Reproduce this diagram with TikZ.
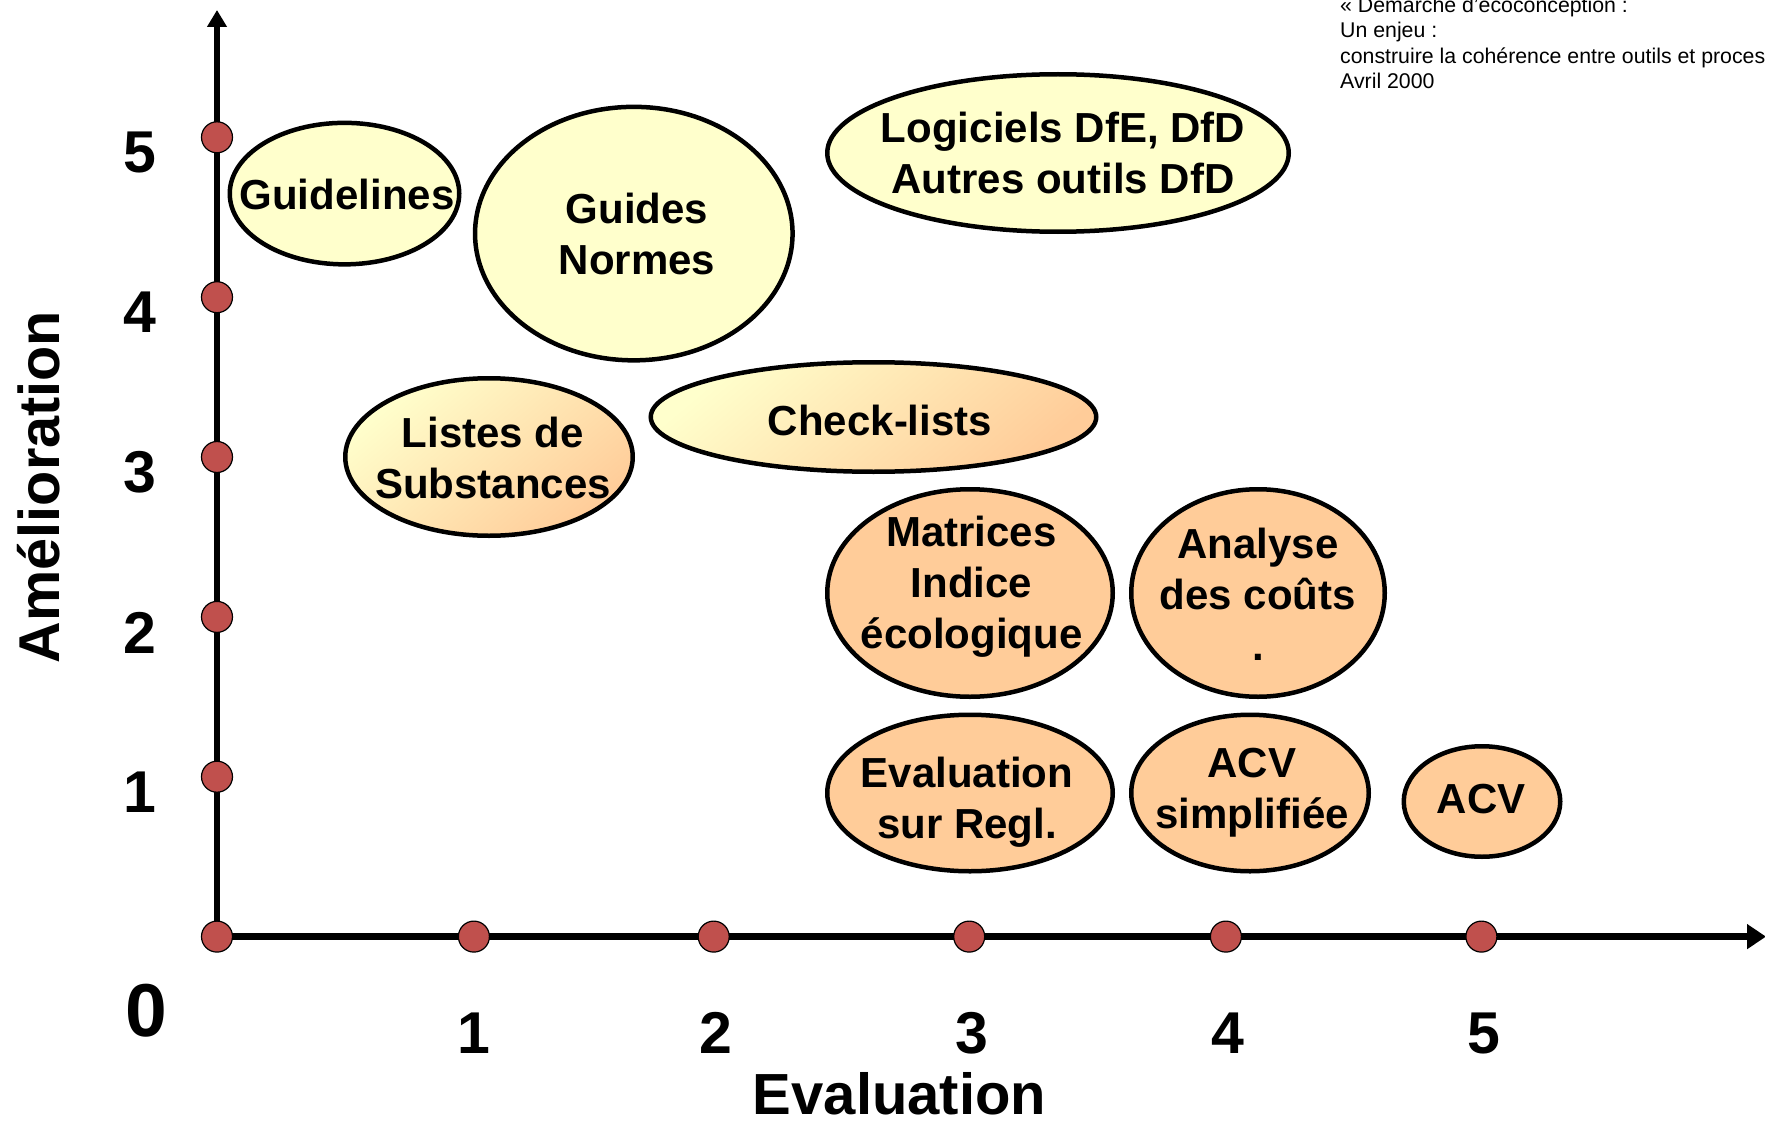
\documentclass[tikz,border=0pt]{standalone}
\usepackage{fontspec}
\setmainfont{Liberation Sans}
\usetikzlibrary{arrows.meta,shapes.geometric}
\definecolor{lyellow}{HTML}{FFFFCC}
\definecolor{lorange}{HTML}{FFCC99}
\definecolor{mark}{HTML}{C0504D}
\tikzset{
  bubble/.style={ellipse, draw=black, line width=4.5pt, inner sep=0pt, outer sep=0pt},
  yel/.style={bubble, fill=lyellow},
  ora/.style={bubble, fill=lorange},
  grad/.style={bubble, top color=lyellow, bottom color=lorange, shading angle=40},
  lbl/.style={font=\fontsize{42}{51}\selectfont\bfseries, align=center, inner sep=0pt},
  tick/.style={circle, draw=black, line width=1.2pt, fill=mark, minimum size=31pt, inner sep=0pt},
  num/.style={font=\fontsize{59}{70}\selectfont\bfseries, inner sep=0pt},
  axtitle/.style={font=\fontsize{58}{68}\selectfont\bfseries, inner sep=0pt},
  note/.style={font=\fontsize{21.3}{25}\selectfont, inner sep=0pt, anchor=base west},
  yaxis/.style={line width=6pt, -{Triangle[length=17pt,width=19pt]}},
  xaxis/.style={line width=7.5pt, -{Triangle[length=19pt,width=24pt]}}
}
\begin{document}
\begin{tikzpicture}[x=1pt,y=-1pt]
\useasboundingbox (0,0) rectangle (1765,1121);
% axes
\coordinate (O) at (217,936.6);
\coordinate (ytop) at (217,10);
\coordinate (xend) at (1766,936.6);
\draw[yaxis] (O) -- (ytop);
\draw[xaxis] (O) -- (xend);
% ticks on x axis
\node[tick] (x0) at (217,936.6) {};
\node[tick] (x1) at (473.9,936.6) {};
\node[tick] (x2) at (713.7,936.6) {};
\node[tick] (x3) at (969.2,936.6) {};
\node[tick] (x4) at (1225.9,936.6) {};
\node[tick] (x5) at (1481.4,936.6) {};
% ticks on y axis
\node[tick] (y1) at (217,776.7) {};
\node[tick] (y2) at (217,616.9) {};
\node[tick] (y3) at (217,457.0) {};
\node[tick] (y4) at (217,297.2) {};
\node[tick] (y5) at (217,137.3) {};
% axis numbers
\node[num] (ny5) at (139.7,152.5) {5};
\node[num] (ny4) at (139.7,312.5) {4};
\node[num] (ny3) at (139.7,472.5) {3};
\node[num] (ny2) at (139.7,632.5) {2};
\node[num] (ny1) at (139.7,792.5) {1};
\node[font=\fontsize{75}{80}\selectfont\bfseries, inner sep=0pt] (n0) at (146,1010.5) {0};
\node[num] (nx1) at (474,1033) {1};
\node[num] (nx2) at (716,1033) {2};
\node[num] (nx3) at (971.5,1033) {3};
\node[num] (nx4) at (1228,1033) {4};
\node[num] (nx5) at (1484,1033) {5};
% axis titles
\node[axtitle, anchor=base] (tx) at (899.5,1114.5) {Evaluation};
\node[font=\fontsize{57.6}{68}\selectfont\bfseries, inner sep=0pt, anchor=base, rotate=90] (ty) at (59.5,487) {Amélioration};
% ellipses
\node[yel, minimum width=229.5pt, minimum height=141.5pt] (gl) at (344.5,193.6) {};
\node[yel, minimum width=317.5pt, minimum height=253.5pt] (gn) at (633.8,233.6) {};
\node[yel, minimum width=461.5pt, minimum height=157.5pt] (lo) at (1058,153) {};
\node[grad, minimum width=287.5pt, minimum height=157.5pt] (ls) at (489,457) {};
\node[grad, minimum width=445.5pt, minimum height=109.5pt] (cl) at (873.5,417) {};
\node[ora, minimum width=285.5pt, minimum height=207.5pt] (ma) at (970,593) {};
\node[ora, minimum width=253.5pt, minimum height=207.5pt] (an) at (1258,593) {};
\node[ora, minimum width=285.5pt, minimum height=156.5pt] (ev) at (970,793) {};
\node[ora, minimum width=237.5pt, minimum height=156.5pt] (as) at (1250,793) {};
\node[ora, minimum width=156.5pt, minimum height=110.5pt] (acv) at (1482,801.5) {};
% ellipse texts
\node[lbl] (tgl) at (347,194.7) {Guidelines};
\node[lbl] (tgn) at (637,233.6) {Guides\\Normes};
\node[lbl] (tlo) at (1063,152.5) {Logiciels DfE, DfD\\Autres outils DfD};
\node[lbl] (tls) at (493,457.6) {Listes de\\Substances};
\node[lbl] (tcl) at (880,420) {Check-lists};
\node[lbl] (tma) at (971.5,587.2) {Matrices\\Indice\\écologique};
\node[lbl] (tan) at (1258,594.4) {Analyse\\des coûts\\.};
\node[lbl] (tev) at (967,802.7) {Evaluation\\sur Regl.};
\node[lbl] (tas) at (1252,793) {ACV\\simplifiée};
\node[lbl] (tacv) at (1481,799) {ACV};
% note top right
\node[note] (n1) at (1340,12.5) {« Démarche d’écoconception :};
\node[note] (n2) at (1340,37.5) {Un enjeu :};
\node[note] (n3) at (1340,63.5) {construire la cohérence entre outils et proces};
\node[note] (n4) at (1340,88.5) {Avril 2000};
\end{tikzpicture}
\end{document}
